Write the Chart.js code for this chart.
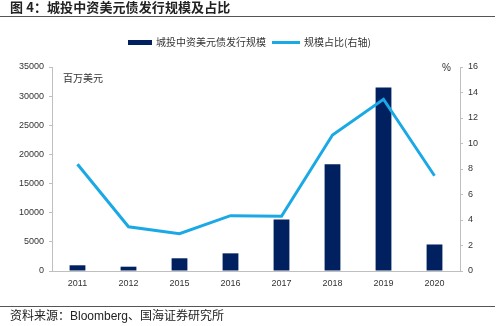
<!DOCTYPE html>
<html>
<head>
<meta charset="utf-8">
<script src="https://cdn.jsdelivr.net/npm/chart.js@4/dist/chart.umd.min.js"></script>
<style>
  html, body { margin: 0; padding: 0; background: #fff; }
  #wrap { position: relative; width: 500px; height: 326px; overflow: hidden;
    font-family: "Liberation Sans", "Noto Sans CJK SC", sans-serif; color: #222; }
  #chart { position: absolute; left: 0; top: 0; }
  .title { position: absolute; left: 10px; top: 0px; font-size: 13px; font-weight: bold;
    letter-spacing: 0.1px; font-family: "Noto Sans CJK SC", sans-serif; line-height: 14px; color: #222; }
  .rule { position: absolute; left: 0; width: 495px; height: 1px; background: #555; }
  .legend { position: absolute; top: 35px; font-size: 10px; line-height: 14px;
    font-family: "Noto Sans CJK SC", sans-serif; color: #333; display: flex; align-items: center; }
  .swatch { display: inline-block; margin-right: 4px; }
  .unit { position: absolute; font-size: 10px; font-family: "Noto Sans CJK SC", sans-serif; color: #333; }
  .source { position: absolute; left: 10px; top: 309px; font-size: 12px; line-height: 14px;
    font-family: "Liberation Sans", "Noto Sans CJK SC", sans-serif; color: #222; }
</style>
</head>
<body>
<div id="wrap">
  <canvas id="chart" width="500" height="326"></canvas>
  <div class="title">图 4：城投中资美元债发行规模及占比</div>
  <div class="rule" style="top:16px"></div>
  <div class="legend" style="left:128px">
    <span class="swatch" style="width:24px;height:5px;background:#002060"></span>城投中资美元债发行规模
  </div>
  <div class="legend" style="left:272px">
    <span class="swatch" style="width:28px;height:3px;background:#1ba9e6"></span>规模占比(右轴)
  </div>
  <div class="unit" style="left:63px;top:70px">百万美元</div>
  <div class="unit" style="left:442px;top:62px;font-family:'Liberation Sans'">%</div>
  <div class="rule" style="top:306px"></div>
  <div class="source">资料来源：Bloomberg、国海证券研究所</div>
</div>
<script>
// issuance by year, in USD millions, and its share (%) on the right axis
const years = ["2011", "2012", "2015", "2016", "2017", "2018", "2019", "2020"];
const issuance = [980, 740, 2180, 3030, 8850, 18300, 31500, 4550];
const sharePct = [8.37, 3.47, 2.93, 4.34, 4.29, 10.67, 13.47, 7.47];

const NAVY = "#002060";
const SKY = "#1ba9e6";
const AXIS = "#bfbfbf";
const TICK_FONT = { family: "Liberation Sans", size: 9 };

new Chart(document.getElementById("chart"), {
  data: {
    labels: years,
    datasets: [
      {
        type: "line",
        data: sharePct,
        yAxisID: "y1",
        borderColor: SKY,
        borderWidth: 3,
        pointRadius: 0,
        tension: 0,
        order: 0,
      },
      {
        type: "bar",
        data: issuance,
        yAxisID: "y",
        backgroundColor: NAVY,
        categoryPercentage: 1,
        barPercentage: 0.31,
        order: 1,
      },
    ],
  },
  options: {
    responsive: false,
    animation: false,
    layout: { padding: { top: 67 } },
    plugins: { legend: { display: false }, tooltip: { enabled: false } },
    scales: {
      x: {
        grid: { display: false, drawTicks: false },
        border: { color: AXIS },
        ticks: { color: "#333", font: TICK_FONT, padding: 7, maxRotation: 0 },
        afterFit: (s) => { s.height = 55; },
      },
      y: {
        position: "left",
        min: 0,
        max: 35000,
        grid: { drawOnChartArea: false, tickLength: 3, color: AXIS },
        border: { color: AXIS },
        ticks: {
          stepSize: 5000,
          color: "#333",
          font: TICK_FONT,
          padding: 5,
          callback: (v) => String(v),
        },
        afterFit: (s) => { s.width = 52; },
      },
      y1: {
        position: "right",
        min: 0,
        max: 16,
        grid: { drawOnChartArea: false, tickLength: 3, color: AXIS },
        border: { color: AXIS },
        ticks: { stepSize: 2, color: "#333", font: TICK_FONT, padding: 5 },
        afterFit: (s) => { s.width = 40; },
      },
    },
  },
});
</script>
</body>
</html>
